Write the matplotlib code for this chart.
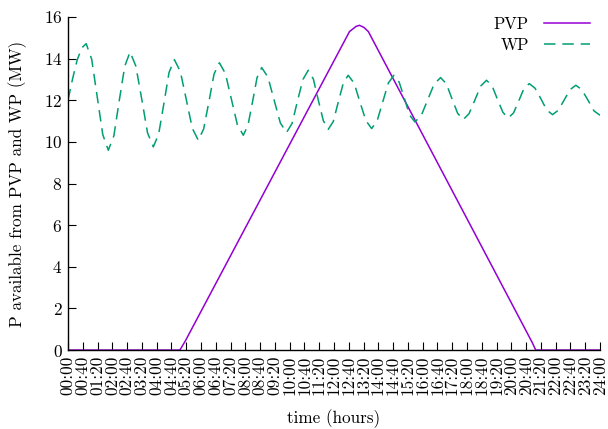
import matplotlib
matplotlib.use("Agg")
import matplotlib.pyplot as plt

# Photovoltaic production (MW), key points
pvp_hours = [0.0, 5.05, 5.3, 12.7, 13.0, 13.15, 13.35, 13.55, 20.95, 21.1, 24.0]
pvp_mw = [0.0, 0.0, 0.45, 15.3, 15.55, 15.6, 15.5, 15.3, 0.35, 0.0, 0.0]

# Wind production (MW)
wp_hours = [
    0.00, 0.21, 0.41, 0.62, 0.82, 1.07, 1.32, 1.57, 1.82, 2.07,
    2.31, 2.56, 2.80, 3.06, 3.33, 3.59, 3.85, 4.09, 4.33, 4.56,
    4.80, 5.07, 5.34, 5.61, 5.88, 6.12, 6.36, 6.59, 6.83, 7.10,
    7.37, 7.64, 7.91, 8.12, 8.33, 8.53, 8.74, 9.02, 9.30, 9.58,
    9.86, 10.11, 10.35, 10.60, 10.84, 11.07, 11.29, 11.52, 11.74, 11.97,
    12.19, 12.42, 12.64, 12.91, 13.17, 13.44, 13.70, 13.95, 14.20, 14.45,
    14.70, 14.94, 15.18, 15.41, 15.65, 15.94, 16.23, 16.52, 16.81, 17.07,
    17.32, 17.58, 17.83, 18.09, 18.36, 18.62, 18.88, 19.13, 19.37, 19.62,
    19.86, 20.10, 20.34, 20.57, 20.81, 21.07, 21.34, 21.60, 21.86, 22.12,
    22.39, 22.65, 22.91, 23.18, 23.46, 23.73, 24.00,
]
wp_mw = [
    12.00, 13.04, 13.92, 14.51, 14.72, 13.97, 12.16, 10.35, 9.60, 10.29,
    11.96, 13.63, 14.32, 13.65, 12.04, 10.43, 9.76, 10.37, 11.86, 13.34,
    13.95, 13.38, 12.02, 10.65, 10.08, 10.62, 11.94, 13.26, 13.80, 13.29,
    12.06, 10.83, 10.32, 10.80, 11.95, 13.09, 13.57, 13.11, 12.01, 10.91,
    10.45, 10.89, 11.95, 13.00, 13.44, 13.02, 12.02, 11.02, 10.60, 10.98,
    11.90, 12.82, 13.20, 12.82, 11.92, 11.02, 10.64, 11.02, 11.92, 12.82,
    13.20, 12.87, 12.08, 11.29, 10.96, 11.27, 12.03, 12.78, 13.09, 12.79,
    12.08, 11.37, 11.07, 11.35, 12.02, 12.68, 12.96, 12.70, 12.06, 11.42,
    11.15, 11.39, 11.98, 12.56, 12.80, 12.58, 12.06, 11.53, 11.31, 11.52,
    12.02, 12.51, 12.72, 12.51, 12.00, 11.49, 11.28,
]

# x ticks every 40 minutes
tick_minutes = list(range(0, 24 * 60 + 1, 40))
tick_labels = [f"{m // 60:02d}:{m % 60:02d}" for m in tick_minutes]
y_ticks = list(range(0, 17, 2))

plt.rcParams["font.family"] = ["cmr10", "DejaVu Serif"]
plt.rcParams["axes.formatter.use_mathtext"] = True
plt.rcParams["font.size"] = 12.5

fig = plt.figure(figsize=(6.08, 4.29), dpi=100)
ax = fig.add_axes([0.1118, 0.184, 0.8750, 0.7764])

ax.plot(pvp_hours, pvp_mw, color="#9400d3", lw=1.1, label="PVP")
ax.plot(wp_hours, wp_mw, color="#009e73", lw=1.1, dashes=(7.5, 4.5), label="WP")

ax.set_xlim(0, 24)
ax.set_ylim(0, 16)
ax.set_xticks([m / 60 for m in tick_minutes])
ax.set_xticklabels(tick_labels, rotation=90)
ax.set_yticks(y_ticks)

ax.spines["top"].set_visible(False)
ax.spines["right"].set_visible(False)
for s in ("left", "bottom"):
    ax.spines[s].set_linewidth(1.0)
ax.tick_params(direction="in", length=6, width=0.8, pad=4, labelsize=12.5)

ax.set_xlabel("time (hours)", labelpad=10, fontsize=12.3)
ax.set_ylabel("P available from PVP and WP (MW)", labelpad=12, fontsize=12.3)

ax.legend(loc="upper right", bbox_to_anchor=(1.01, 1.045), frameon=False,
          markerfirst=False, handlelength=2.8, handletextpad=0.9,
          labelspacing=0.3, fontsize=12)

fig.savefig("out.png", dpi=100)
